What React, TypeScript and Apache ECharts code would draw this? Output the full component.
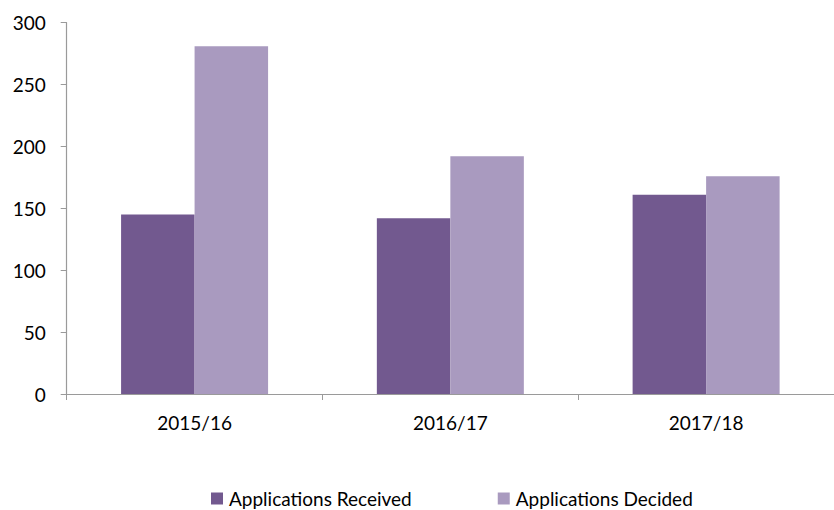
import React, { useEffect, useRef } from "react";
import * as echarts from "echarts";

const categories = ["2015/16", "2016/17", "2017/18"];
const received = [145, 142, 161];
const decided = [281, 192, 176];
const seriesNames = ["Applications Received", "Applications Decided"];
const yMin = 0;
const yMax = 300;
const yInterval = 50;

const FONT = "Lato";

export default function App() {
  const ref = useRef<HTMLDivElement>(null);
  useEffect(() => {
    if (!ref.current) return;
    const chart = echarts.init(ref.current, undefined, { renderer: "svg" });
    chart.setOption({
      animation: false,
      textStyle: { fontFamily: FONT },
      grid: { left: 66.7, top: 22.7, width: 770, bottom: 116, containLabel: false },
      legend: {
        left: 211,
        top: 489,
        padding: 0,
        itemGap: 86,
        itemWidth: 12,
        itemHeight: 12,
        icon: "rect",
        textStyle: { fontFamily: FONT, fontSize: 19, lineHeight: 19, color: "#000", padding: [0, 0, 0, 1] },
        data: seriesNames,
      },
      xAxis: {
        type: "category",
        data: categories,
        axisLine: { lineStyle: { color: "#9a9a9a", width: 1.2 } },
        axisTick: { show: true, length: 6, lineStyle: { color: "#9a9a9a" } },
        axisLabel: { color: "#000", fontSize: 19, fontFamily: FONT, margin: 19 },
      },
      yAxis: {
        type: "value",
        min: yMin,
        max: yMax,
        interval: yInterval,
        splitLine: { show: false },
        axisLine: { show: true, lineStyle: { color: "#9a9a9a", width: 1.2 } },
        axisTick: { show: true, length: 6, lineStyle: { color: "#9a9a9a" } },
        axisLabel: { color: "#000", fontSize: 19, fontFamily: FONT, margin: 21 },
      },
      series: [
        {
          name: seriesNames[0],
          type: "bar",
          data: received,
          barWidth: 73.5,
          barGap: "0%",
          itemStyle: { color: "#72598F" },
        },
        {
          name: seriesNames[1],
          type: "bar",
          data: decided,
          barWidth: 73.5,
          barGap: "0%",
          itemStyle: { color: "#A99ABF" },
        },
      ],
    });
    return () => chart.dispose();
  }, []);
  return (
    <div
      ref={ref}
      style={{ position: "absolute", left: 0, top: 0, width: 834, height: 510, background: "#fff" }}
    />
  );
}
